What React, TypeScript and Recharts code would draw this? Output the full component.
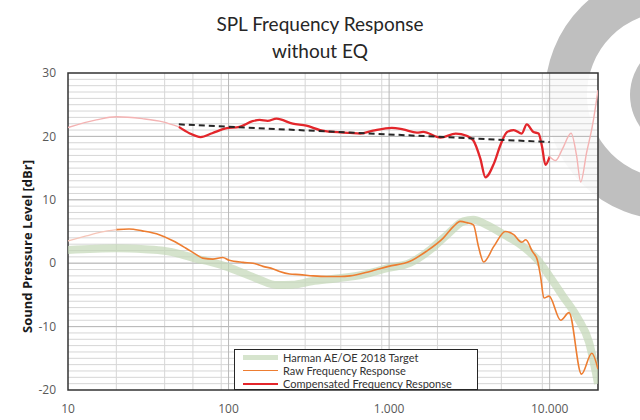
import React from 'react';
import { LineChart, Line, XAxis, YAxis, CartesianGrid, Legend, ReferenceArea } from 'recharts';

// ---- data (frequency in Hz, level in dBr) ----
const harmanTarget = [
  { f: 10, db: 2.1 }, { f: 20, db: 2.35 }, { f: 30, db: 2.2 }, { f: 40, db: 1.95 }, { f: 50, db: 1.45 },
  { f: 63, db: 0.7 }, { f: 76, db: 0.25 }, { f: 96, db: -0.5 }, { f: 123, db: -1.55 }, { f: 156, db: -2.6 },
  { f: 200, db: -3.45 }, { f: 250, db: -3.4 }, { f: 330, db: -2.85 }, { f: 470, db: -2.4 }, { f: 690, db: -1.8 },
  { f: 990, db: -0.75 }, { f: 1350, db: 0.05 }, { f: 1800, db: 2.1 }, { f: 2300, db: 4.5 }, { f: 2900, db: 6.6 },
  { f: 3350, db: 6.85 }, { f: 4050, db: 6.05 }, { f: 5200, db: 4.5 }, { f: 6600, db: 2.9 }, { f: 8400, db: 0.55 },
  { f: 10000, db: -2.1 }, { f: 12100, db: -5.2 }, { f: 14900, db: -8.6 }, { f: 17600, db: -12.5 }, { f: 20000, db: -19 },
];

const rawPale = [
  { f: 10, db: 3.5 }, { f: 13, db: 4.3 }, { f: 16, db: 4.9 }, { f: 20, db: 5.3 },
];

const rawResponse = [
  { f: 20, db: 5.3 }, { f: 24, db: 5.4 }, { f: 29, db: 5.1 }, { f: 37, db: 4.5 }, { f: 45, db: 3.55 },
  { f: 54, db: 2.4 }, { f: 63, db: 1.35 }, { f: 69, db: 0.8 }, { f: 80, db: 0.65 }, { f: 92, db: 0.9 },
  { f: 101, db: 0.45 }, { f: 123, db: 0.13 }, { f: 142, db: 0.0 }, { f: 164, db: -0.5 }, { f: 190, db: -0.9 },
  { f: 208, db: -1.3 }, { f: 240, db: -1.7 }, { f: 277, db: -1.8 }, { f: 336, db: -2.0 }, { f: 407, db: -2.1 },
  { f: 494, db: -2.1 }, { f: 570, db: -2.0 }, { f: 760, db: -1.3 }, { f: 990, db: -0.5 }, { f: 1350, db: 0.3 },
  { f: 1700, db: 1.85 }, { f: 2180, db: 4.0 }, { f: 2520, db: 5.8 }, { f: 2770, db: 6.6 }, { f: 3050, db: 6.4 },
  { f: 3350, db: 6.05 }, { f: 3600, db: 2.65 }, { f: 3880, db: 0.2 }, { f: 4490, db: 2.65 }, { f: 5300, db: 5.0 },
  { f: 5970, db: 4.5 }, { f: 6700, db: 3.3 }, { f: 7100, db: 3.7 }, { f: 7800, db: 1.85 }, { f: 8370, db: 0.55 },
  { f: 8780, db: -2.1 }, { f: 9210, db: -5.5 }, { f: 9910, db: -5.2 }, { f: 11720, db: -9.0 }, { f: 13200, db: -7.8 },
  { f: 15780, db: -17.5 }, { f: 18300, db: -14.2 }, { f: 20000, db: -16.7 },
];

const compensatedPaleLow = [
  { f: 10, db: 21.4 }, { f: 15, db: 22.6 }, { f: 20, db: 23.1 }, { f: 29, db: 22.8 }, { f: 39, db: 22.3 }, { f: 49, db: 21.5 },
];

const compensatedResponse = [
  { f: 49, db: 21.5 }, { f: 57, db: 20.5 }, { f: 67, db: 19.9 }, { f: 79, db: 20.5 }, { f: 96, db: 21.25 },
  { f: 117, db: 21.5 }, { f: 141, db: 22.4 }, { f: 156, db: 22.6 }, { f: 175, db: 22.45 }, { f: 199, db: 22.8 },
  { f: 251, db: 22.0 }, { f: 305, db: 21.7 }, { f: 372, db: 21.0 }, { f: 447, db: 20.7 }, { f: 570, db: 20.55 },
  { f: 660, db: 20.45 }, { f: 794, db: 20.9 }, { f: 1040, db: 21.35 }, { f: 1220, db: 21.1 }, { f: 1490, db: 20.6 },
  { f: 1630, db: 20.7 }, { f: 2090, db: 19.8 }, { f: 2600, db: 20.45 }, { f: 3040, db: 20.1 }, { f: 3340, db: 19.4 },
  { f: 3700, db: 16.5 }, { f: 3980, db: 13.55 }, { f: 4500, db: 15.75 }, { f: 4930, db: 18.6 }, { f: 5430, db: 20.7 },
  { f: 5970, db: 21.0 }, { f: 6700, db: 20.45 }, { f: 7200, db: 21.9 }, { f: 7920, db: 20.7 }, { f: 8530, db: 20.45 },
  { f: 8960, db: 18.4 }, { f: 9410, db: 15.5 }, { f: 10000, db: 16.8 },
];

const compensatedPaleHigh = [
  { f: 10000, db: 16.8 }, { f: 10900, db: 16.2 }, { f: 12000, db: 18.0 }, { f: 13600, db: 20.5 }, { f: 14700, db: 17.0 },
  { f: 15600, db: 12.8 }, { f: 17000, db: 17.5 }, { f: 18500, db: 21.8 }, { f: 20000, db: 27.3 },
];

const targetTrend = [
  { f: 49, db: 21.9 }, { f: 10000, db: 19.1 },
];

const seriesNames = ['Harman AE/OE 2018 Target', 'Raw Frequency Response', 'Compensated Frequency Response'];
const xTicks = [10, 100, 1000, 10000];
const xTickLabels = ['10', '100', '1.000', '10.000'];
const yTicks = [-20, -10, 0, 10, 20, 30];
const majorDb = [-10, 0, 10, 20];
const majorFreqs = [100, 1000, 10000];

const minorDb: number[] = [];
for (let v = -19; v < 30; v++) minorDb.push(v);
const minorFreqs: number[] = [];
for (const d of [10, 100, 1000, 10000]) {
  for (let m = 2; m <= 9; m++) {
    if (d * m <= 20000) minorFreqs.push(d * m);
  }
}

const FONT = 'Lato, "Liberation Sans", sans-serif';
const TICK_FONT = '"Open Sans", "Liberation Sans", sans-serif';
const GREEN = '#c3d7b6';
const ORANGE = '#ed7d31';
const RED = '#e3262b';
const legendSwatch = [
  { stroke: '#d6e4cd', width: 5 },
  { stroke: ORANGE, width: 1.6 },
  { stroke: RED, width: 2 },
];

const LegendBox = () => (
  <div
    style={{
      border: '1px solid #262626',
      background: '#fff',
      width: 244,
      height: 41,
      boxSizing: 'border-box',
      paddingTop: 1,
      fontFamily: FONT,
      fontSize: 11,
      color: '#333',
    }}
  >
    {seriesNames.map((name, i) => (
      <div key={name} style={{ display: 'flex', alignItems: 'center', height: 13 }}>
        <div style={{ width: 8 }} />
        <div style={{ width: 35, height: legendSwatch[i].width, background: legendSwatch[i].stroke }} />
        <div style={{ marginLeft: 5, whiteSpace: 'nowrap', lineHeight: '13px' }}>{name}</div>
      </div>
    ))}
  </div>
);

export default function App() {
  return (
    <div
      style={{
        position: 'absolute',
        left: 0,
        top: 0,
        width: 640,
        height: 420,
        overflow: 'hidden',
        background: '#fff',
        fontFamily: FONT,
      }}
    >
      {/* watermark logo */}
      <div
        style={{
          position: 'absolute',
          left: 545,
          top: -30,
          width: 250,
          height: 250,
          borderRadius: '50%',
          border: '42px solid #bfbfbf',
          boxSizing: 'border-box',
        }}
      />
      <div
        style={{
          position: 'absolute',
          left: 630,
          top: 40,
          width: 110,
          height: 110,
          borderRadius: '50%',
          background: '#bfbfbf',
        }}
      />
      <div
        style={{
          position: 'absolute',
          left: 0,
          top: 10,
          width: 640,
          textAlign: 'center',
          fontSize: 19,
          lineHeight: '27px',
          color: '#262626',
          fontFamily: FONT,
        }}
      >
        <div>SPL Frequency Response</div>
        <div>without EQ</div>
      </div>
      <LineChart
        width={640}
        height={420}
        margin={{ top: 73, right: 42, bottom: 0, left: 0 }}
        style={{ position: 'absolute', left: 0, top: 0 }}
      >
        <CartesianGrid
          fill="#ffffff"
          fillOpacity={0.9}
          stroke="#d6d6d6"
          horizontalValues={minorDb}
          verticalValues={minorFreqs}
        />
        <CartesianGrid fill="none" stroke="#b8b8b8" horizontalValues={majorDb} verticalValues={majorFreqs} />
        <XAxis
          dataKey="f"
          type="number"
          scale="log"
          domain={[10, 20000]}
          ticks={xTicks}
          tickFormatter={(v: number) => xTickLabels[xTicks.indexOf(v)] ?? String(v)}
          tickLine={false}
          axisLine={false}
          tickSize={6}
          tickMargin={8}
          height={30}
          tick={{ fill: '#595959', fontSize: 12, fontFamily: TICK_FONT }}
          allowDataOverflow
        />
        <YAxis
          type="number"
          domain={[-20, 30]}
          ticks={yTicks}
          width={68}
          tickLine={false}
          axisLine={false}
          tickSize={6}
          tickMargin={6}
          interval={0}
          tick={{ fill: '#595959', fontSize: 12, fontFamily: TICK_FONT }}
          allowDataOverflow
          label={{
            value: 'Sound Pressure Level [dBr]',
            angle: -90,
            position: 'center',
            dx: -7,
            dy: 15,
            style: { fontWeight: 'bold', fontSize: 13, fill: '#1a1a1a', fontFamily: TICK_FONT },
          }}
        />
        <Line
          data={harmanTarget}
          dataKey="db"
          name={seriesNames[0]}
          stroke={GREEN}
          strokeOpacity={0.7}
          strokeWidth={8}
          dot={false}
          type="monotone"
          isAnimationActive={false}
        />
        <Line
          data={rawResponse}
          dataKey="db"
          name={seriesNames[1]}
          stroke={ORANGE}
          strokeWidth={1.6}
          dot={false}
          type="monotone"
          isAnimationActive={false}
        />
        <Line
          data={compensatedResponse}
          dataKey="db"
          name={seriesNames[2]}
          stroke={RED}
          strokeWidth={2.3}
          dot={false}
          type="monotone"
          isAnimationActive={false}
        />
        <Line
          data={rawPale}
          dataKey="db"
          name="raw-pale"
          stroke="#f6c5b8"
          strokeWidth={1.4}
          dot={false}
          type="monotone"
          legendType="none"
          isAnimationActive={false}
        />
        <Line
          data={compensatedPaleLow}
          dataKey="db"
          name="comp-pale-low"
          stroke="#f4b3b3"
          strokeWidth={1.4}
          dot={false}
          type="monotone"
          legendType="none"
          isAnimationActive={false}
        />
        <Line
          data={compensatedPaleHigh}
          dataKey="db"
          name="comp-pale-high"
          stroke="#f4b3b3"
          strokeWidth={1.4}
          dot={false}
          type="monotone"
          legendType="none"
          isAnimationActive={false}
        />
        <Line
          data={targetTrend}
          dataKey="db"
          name="trend"
          stroke="#262626"
          strokeWidth={2}
          strokeDasharray="6 4"
          dot={false}
          type="linear"
          legendType="none"
          isAnimationActive={false}
        />
        <ReferenceArea x1={10} x2={20000} y1={-20} y2={30} fill="none" stroke="#333" strokeWidth={1.5} ifOverflow="visible" />
        <Legend
          layout="vertical"
          align="center"
          verticalAlign="middle"
          content={<LegendBox />}
          wrapperStyle={{ position: 'absolute', left: 234, top: 349, width: 244, height: 41 }}
        />
      </LineChart>
    </div>
  );
}
